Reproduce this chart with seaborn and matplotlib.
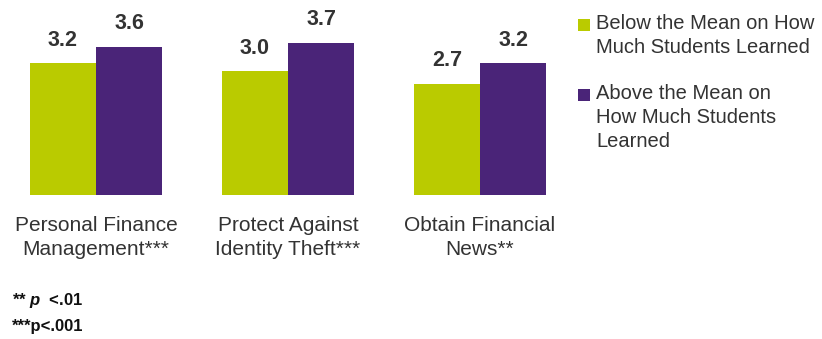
import matplotlib
matplotlib.use("Agg")
import matplotlib.pyplot as plt
import matplotlib.patches as mpatches
import seaborn as sns
import pandas as pd

categories = ["Personal Finance\nManagement***",
              "Protect Against\nIdentity Theft***",
              "Obtain Financial\nNews**"]
groups = ["Below the Mean on How\nMuch Students Learned",
          "Above the Mean on\nHow Much Students\nLearned"]
below_mean = [3.2, 3.0, 2.7]
above_mean = [3.6, 3.7, 3.2]
colors = ["#BACB00", "#4A2478"]

df = pd.DataFrame({
    "category": categories * 2,
    "group": [groups[0]] * 3 + [groups[1]] * 3,
    "value": below_mean + above_mean,
})

sns.set_theme(style="white")
plt.rcParams["font.family"] = ["Liberation Sans", "DejaVu Sans"]
plt.rcParams["mathtext.fontset"] = "custom"
plt.rcParams["mathtext.it"] = "Liberation Sans:italic:bold"
text_color = "#333333"

W, H = 822, 339
fig = plt.figure(figsize=(W / 100, H / 100), dpi=100)
ax = fig.add_axes([0.0, 1 - 195 / H, 576 / W, 4.0 * 41.2 / H])

sns.barplot(data=df, x="category", y="value", hue="group",
            palette=colors, width=0.69, saturation=1.0,
            legend=False, ax=ax, errorbar=None, linewidth=0)

ax.set_xlim(-0.5, 2.5)
ax.set_ylim(0, 4.0)
ax.set_xlabel("")
ax.set_ylabel("")
ax.set_yticks([])
for s in ax.spines.values():
    s.set_visible(False)
ax.tick_params(axis="x", length=0, pad=15, labelsize=15, labelcolor=text_color)
for lbl in ax.get_xticklabels():
    lbl.set_linespacing(1.35)

# value labels above each bar
for cont in ax.containers:
    for bar in cont:
        h = bar.get_height()
        ax.annotate(f"{h:.1f}", (bar.get_x() + bar.get_width() / 2, h),
                    xytext=(0, 9), textcoords="offset points",
                    ha="center", va="bottom", fontsize=15.5,
                    fontweight="bold", color=text_color)

# legend: square swatch beside the first line of each entry
entry_tops = [15, 85]
for color, label, top in zip(colors, groups, entry_tops):
    fig.patches.append(mpatches.Rectangle(
        (578 / W, 1 - (top + 15.5) / H), 12 / W, 12 / H,
        transform=fig.transFigure, facecolor=color, edgecolor="none"))
    fig.text(596 / W, 1 - (top - 1) / H, label, fontsize=14.5,
             color=text_color, ha="left", va="top", linespacing=1.35)

fig.text(12 / W, 1 - 300 / H, r"** $p$  <.01", fontsize=12,
         fontweight="bold", color="#111111", va="center")
fig.text(12 / W, 1 - 327 / H, "***p<.001", fontsize=12,
         fontweight="bold", color="#111111", va="center")

fig.savefig("out.png", dpi=100)
